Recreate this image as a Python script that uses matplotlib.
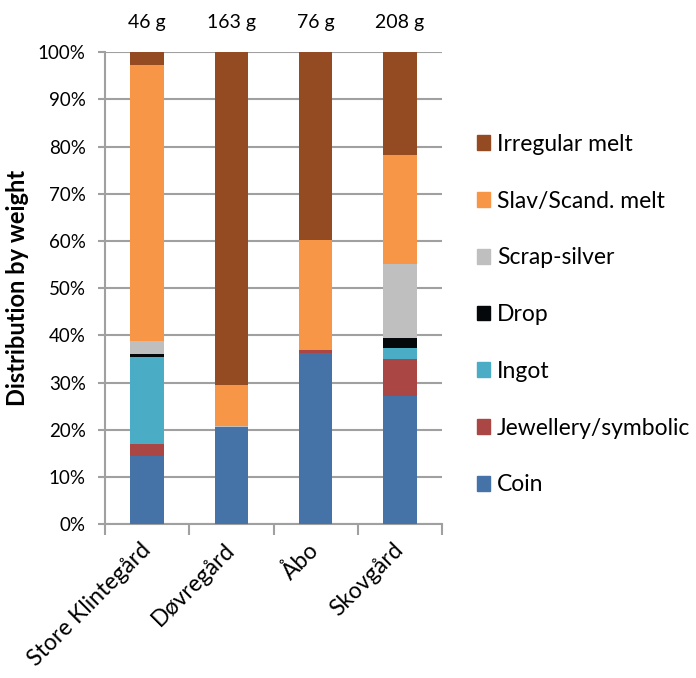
import numpy as np
import matplotlib
matplotlib.use("Agg")
import matplotlib.pyplot as plt
from matplotlib.patches import Patch
from matplotlib.ticker import FixedLocator, PercentFormatter

plt.rcParams['font.family'] = ['Lato', 'DejaVu Sans']

# sites and total weights
sites = ["Store Klintegård", "Døvregård", "Åbo", "Skovgård"]
weights = ["46 g", "163 g", "76 g", "208 g"]

# percentage by weight, per category (bottom to top)
categories = ["Coin", "Jewellery/symbolic", "Ingot", "Drop",
              "Scrap-silver", "Slav/Scand. melt", "Irregular melt"]
coin = [14.4, 20.5, 36.3, 27.2]
jewellery = [2.6, 0.0, 0.6, 7.8]
ingot = [18.4, 0.0, 0.0, 2.4]
drop = [0.7, 0.0, 0.0, 2.0]
scrap = [2.8, 0.3, 0.0, 15.8]
slav = [58.3, 8.7, 23.3, 23.1]
irregular = [2.8, 70.5, 39.8, 21.7]

colors = ["#4572A7", "#AA4643", "#4BACC6", "#05080B",
          "#BFBFBF", "#F79646", "#954B22"]
series = [coin, jewellery, ingot, drop, scrap, slav, irregular]

fig = plt.figure(figsize=(6.96, 6.78), dpi=100)
ax = fig.add_axes([0.151, 0.227, 0.484, 0.696])

x = np.arange(len(sites))
bottom = np.zeros(len(sites))
for vals, col in zip(series, colors):
    ax.bar(x, vals, 0.4, bottom=bottom, color=col, zorder=3)
    bottom += np.array(vals)

grid_col = "#A0A0A0"
ax.set_xlim(-0.5, len(sites) - 0.5)
ax.set_ylim(0, 100)
ax.set_yticks(np.arange(0, 101, 10))
ax.yaxis.set_major_formatter(PercentFormatter(decimals=0))
ax.yaxis.grid(True, color=grid_col, linewidth=1.5, zorder=0)
for s in ["top", "right"]:
    ax.spines[s].set_visible(False)
for s in ["left", "bottom"]:
    ax.spines[s].set_color(grid_col)
    ax.spines[s].set_linewidth(1.5)

ax.tick_params(axis="y", length=5, color=grid_col, width=1.5, labelsize=13.5, pad=9)
ax.set_xticks(x)
ax.set_xticklabels(sites, rotation=45, ha="right", va="center",
                   rotation_mode="anchor", fontsize=16.5)
ax.tick_params(axis="x", which="major", length=0, pad=16)
ax.xaxis.set_minor_locator(FixedLocator(np.arange(-0.5, len(sites), 1.0)))
ax.tick_params(axis="x", which="minor", length=8, color=grid_col, width=1.5)

ax.set_ylabel("Distribution by weight", fontsize=17, fontweight="bold", labelpad=6)

for xi, w in zip(x, weights):
    ax.text(xi, 1.045, w, transform=ax.get_xaxis_transform(),
            ha="center", va="bottom", fontsize=14)

handles = [Patch(color=c, label=l) for c, l in zip(colors, categories)][::-1]
fig.legend(handles=handles, loc="center left", bbox_to_anchor=(0.655, 0.536),
           frameon=False, fontsize=16.5, handlelength=0.6, handleheight=0.6,
           handletextpad=0.3, labelspacing=1.56)

fig.savefig("out.png", dpi=100)
